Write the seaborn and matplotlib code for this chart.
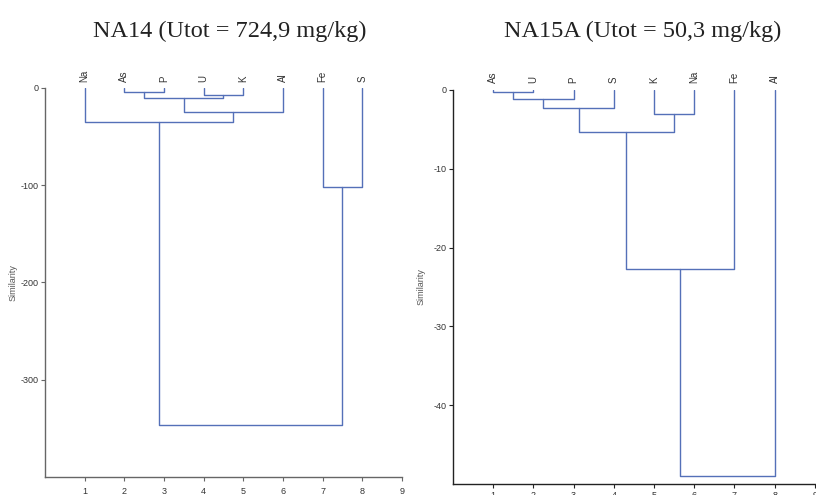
import pandas as pd
import matplotlib.pyplot as plt
import seaborn as sns

# NA14 sample: leaf order and merge steps (child a, child b, similarity)
na14_leaves = ['Na', 'As', 'P', 'U', 'K', 'Al', 'Fe', 'S']
na14_merges = [(1, 2, -4.4), (3, 4, -6.8), (8, 9, -9.9), (10, 5, -25.0),
               (0, 11, -34.9), (6, 7, -101.5), (12, 13, -347.0)]
na14_yticks = [0, -100, -200, -300]

# NA15A sample
na15_leaves = ['As', 'U', 'P', 'S', 'K', 'Na', 'Fe', 'Al']
na15_merges = [(0, 1, -0.22), (8, 2, -1.15), (9, 3, -2.3), (4, 5, -3.05),
               (10, 11, -5.3), (12, 6, -22.7), (13, 7, -49.0)]
na15_yticks = [0, -10, -20, -30, -40]

xticks = list(range(1, 10))
line_color = '#5470b8'


def dendro_segments(leaves, merges):
    # leaves sit at x = 1..n, height 0; each merge sits at mean of its children
    xs = [i + 1.0 for i in range(len(leaves))]
    hs = [0.0] * len(leaves)
    rows = []
    for k, (a, b, h) in enumerate(merges):
        pts = [(xs[a], hs[a]), (xs[a], h), (xs[b], h), (xs[b], hs[b])]
        for px, py in pts:
            rows.append({'seg': k, 'x': px, 'y': py})
        xs.append((xs[a] + xs[b]) / 2)
        hs.append(h)
    return pd.DataFrame(rows)


sns.set_theme(style='ticks')
plt.rcParams['axes.unicode_minus'] = False
plt.rcParams['font.family'] = ['Liberation Sans', 'DejaVu Sans']

fig = plt.figure(figsize=(8.16, 4.95), dpi=100)
ax1 = fig.add_axes([0.0551, 0.0364, 0.4375, 0.7859])
ax2 = fig.add_axes([0.5551, 0.0222, 0.4436, 0.7960])

panels = [
    (ax1, na14_leaves, na14_merges, na14_yticks, -400, '#666666', 4.0, 4.0),
    (ax2, na15_leaves, na15_merges, na15_yticks, -50, '#222222', 5.0, 2.0),
]

for ax, leaves, merges, yticks, ybottom, spine_col, lab_off, xpad in panels:
    df = dendro_segments(leaves, merges)
    sns.lineplot(data=df, x='x', y='y', units='seg', estimator=None,
                 sort=False, color=line_color, linewidth=1, ax=ax)
    for i, name in enumerate(leaves):
        ax.annotate(name, (i + 1, 0), xytext=(0, lab_off),
                    textcoords='offset points', rotation=90,
                    ha='center', va='bottom', fontsize=7, color='#333333',
                    annotation_clip=False)
    ax.set_xlim(0, 9)
    ax.set_ylim(ybottom, 0)
    ax.set_xticks(xticks)
    ax.set_xticklabels([str(t) for t in xticks])
    ax.set_yticks(yticks)
    ax.set_yticklabels([str(t) for t in yticks])
    ax.set_xlabel('')
    ax.set_ylabel('Similarity', fontsize=6.5, color='#555555')
    ax.yaxis.set_label_coords(-0.076, 0.5)
    ax.tick_params(axis='both', labelsize=6.5, length=3, width=0.8,
                   colors=spine_col, labelcolor='#333333')
    ax.tick_params(axis='x', pad=xpad)
    ax.tick_params(axis='y', pad=1.5)
    for side in ['top', 'right']:
        ax.spines[side].set_visible(False)
    for side in ['left', 'bottom']:
        ax.spines[side].set_color(spine_col)
        ax.spines[side].set_linewidth(1)

fig.text(0.281, 0.926, 'NA14 (Utot = 724,9 mg/kg)', ha='center',
         va='baseline', fontsize=17.5, family='Liberation Serif', color='#222222')
fig.text(0.788, 0.926, 'NA15A (Utot = 50,3 mg/kg)', ha='center',
         va='baseline', fontsize=17.5, family='Liberation Serif', color='#222222')

fig.savefig('out.png', dpi=100)
